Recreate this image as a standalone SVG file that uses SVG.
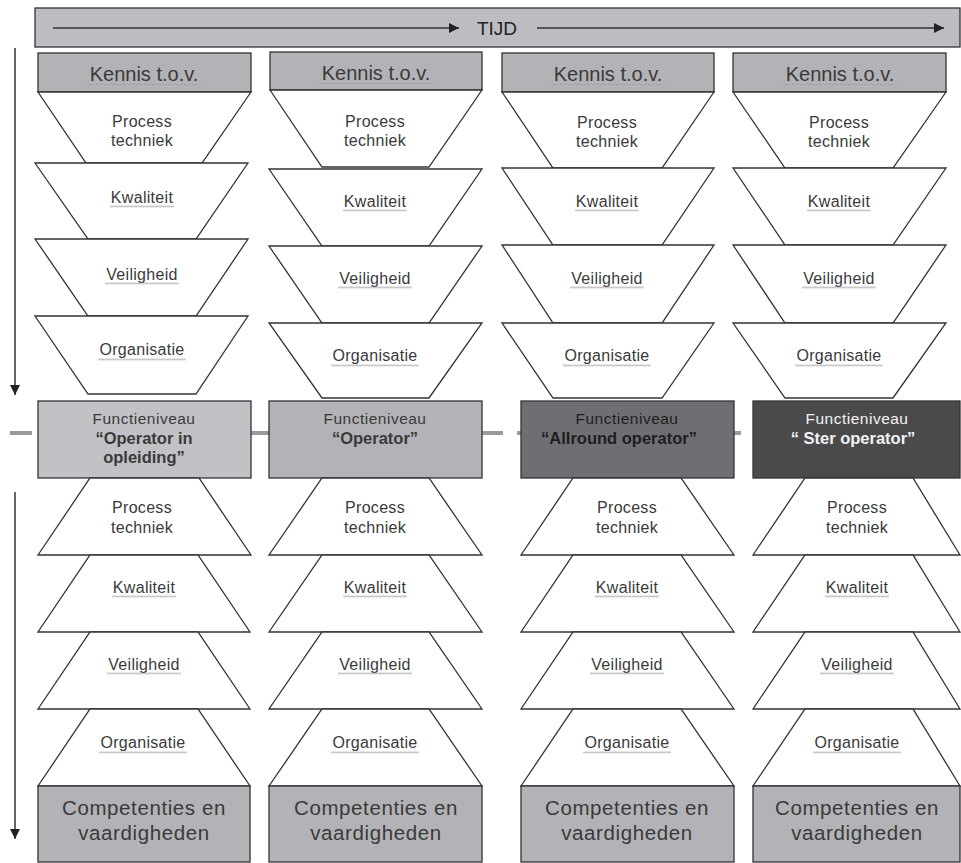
<svg xmlns="http://www.w3.org/2000/svg" width="961" height="863" viewBox="0 0 961 863">
<defs>
<style>
.bg{fill:#ffffff}
.bar{fill:#bdbdc1;stroke:#333;stroke-width:1.3}
.hdr{fill:#b3b3b7;stroke:#333;stroke-width:1.3}
.trap{fill:#ffffff;stroke:#333;stroke-width:1.3}
.f1{fill:#c2c2c6;stroke:#333;stroke-width:1.3}
.f2{fill:#b3b3b7;stroke:#333;stroke-width:1.3}
.f3{fill:#6f6f73;stroke:#333;stroke-width:1.3}
.f4{fill:#4a4a4c;stroke:#333;stroke-width:1.3}
text{font-family:"Liberation Sans",Arial,sans-serif;text-anchor:middle;fill:#3a3a3a}
.big{font-size:20px}
.comp{font-size:20.5px;letter-spacing:0.6px}
.sm{font-size:16px;letter-spacing:0.3px}
.fn{font-size:15.5px;letter-spacing:0.5px}
.fb{font-size:16.5px;font-weight:bold}
.w{fill:#f2f2f2}
.d3{fill:#1e1e1e}
.ln{stroke:#333;stroke-width:1.5;fill:none}
.dash{stroke:#9a9a9a;stroke-width:4;fill:none}
</style>
<pattern id="squig" patternUnits="userSpaceOnUse" width="4" height="3">
<path d="M0,2.5 L1,0.5 L2,2.5 L3,0.5 L4,2.5" fill="none" stroke="#a5a5a5" stroke-width="0.6"/>
</pattern>
<pattern id="dots" patternUnits="userSpaceOnUse" width="2" height="2">
<rect x="0" y="0" width="1" height="1" fill="#9a9a9a"/>
</pattern>
<rect id="sqK" width="64" height="3" fill="url(#squig)"/>
<rect id="sqV" width="74" height="3" fill="url(#squig)"/>
<rect id="sqO" width="88" height="3" fill="url(#squig)"/>
<rect id="sqH" width="116" height="1.5" fill="url(#dots)"/>
<marker id="ah" viewBox="0 0 10 10" refX="10" refY="5" markerWidth="10" markerHeight="10" markerUnits="userSpaceOnUse" orient="auto">
<path d="M0,0 L10,5 L0,10 z" fill="#222"/>
</marker>
</defs>
<rect class="bg" x="0" y="0" width="961" height="863"/>

<g id="tijd">
<rect class="bar" x="35" y="8" width="925" height="39"/>
<text x="497" y="35" style="font-size:19px;fill:#222">TIJD</text>
</g>

<g id="connectors">
<line class="ln" x1="53" y1="28" x2="459" y2="28" marker-end="url(#ah)"/>
<line class="ln" x1="537" y1="28" x2="944" y2="28" marker-end="url(#ah)"/>
<line class="ln" x1="15" y1="48" x2="15" y2="395" marker-end="url(#ah)"/>
<line class="ln" x1="15" y1="492" x2="15" y2="839" marker-end="url(#ah)"/>
<line class="dash" x1="10" y1="433" x2="32" y2="433"/>
<line class="dash" x1="251" y1="433" x2="269" y2="433"/>
<line class="dash" x1="482" y1="433" x2="503" y2="433"/>
<line class="dash" x1="517" y1="433" x2="521" y2="433"/>
<line class="dash" x1="734" y1="433" x2="741" y2="433"/>
</g>

<!-- Column 1 top -->
<g id="c1-kennis"><rect class="hdr" x="38" y="53" width="213" height="39"/><text class="big" x="144" y="81">Kennis t.o.v.</text><use href="#sqH" x="86" y="84"/></g>
<g id="c1-process-top"><polygon class="trap" points="38,92 251,92 202,163 86,163"/><text class="sm" x="142" y="127">Process</text><text class="sm" x="142" y="146">techniek</text></g>
<g id="c1-kwaliteit-top"><polygon class="trap" points="35,163 248,163 196,239 88,239"/><text class="sm" x="142" y="203">Kwaliteit</text><use href="#sqK" x="110" y="205"/></g>
<g id="c1-veiligheid-top"><polygon class="trap" points="35,239 248,239 196,316 88,316"/><text class="sm" x="142" y="280">Veiligheid</text><use href="#sqV" x="105" y="282"/></g>
<g id="c1-organisatie-top"><polygon class="trap" points="35,316 248,316 196,394 88,394"/><text class="sm" x="142" y="355">Organisatie</text><use href="#sqO" x="98" y="358"/></g>

<!-- Column 2 top -->
<g id="c2-kennis"><rect class="hdr" x="270" y="52" width="212" height="38"/><text class="big" x="376" y="80">Kennis t.o.v.</text><use href="#sqH" x="318" y="83"/></g>
<g id="c2-process-top"><polygon class="trap" points="270,90 482,90 429,167 322,167"/><text class="sm" x="375" y="127">Process</text><text class="sm" x="375" y="146">techniek</text></g>
<g id="c2-kwaliteit-top"><polygon class="trap" points="269,169 482,169 429,246 322,246"/><text class="sm" x="375" y="207">Kwaliteit</text><use href="#sqK" x="343" y="209"/></g>
<g id="c2-veiligheid-top"><polygon class="trap" points="269,246 482,246 429,323 322,323"/><text class="sm" x="375" y="284">Veiligheid</text><use href="#sqV" x="338" y="286"/></g>
<g id="c2-organisatie-top"><polygon class="trap" points="269,323 482,323 429,398 322,398"/><text class="sm" x="375" y="361">Organisatie</text><use href="#sqO" x="331" y="364"/></g>

<!-- Column 3 top -->
<g id="c3-kennis"><rect class="hdr" x="502" y="53" width="212" height="39"/><text class="big" x="608" y="81">Kennis t.o.v.</text><use href="#sqH" x="550" y="84"/></g>
<g id="c3-process-top"><polygon class="trap" points="502,92 714,92 662,168 553,168"/><text class="sm" x="607" y="128">Process</text><text class="sm" x="607" y="147">techniek</text></g>
<g id="c3-kwaliteit-top"><polygon class="trap" points="502,168 714,168 662,245 553,245"/><text class="sm" x="607" y="207">Kwaliteit</text><use href="#sqK" x="575" y="209"/></g>
<g id="c3-veiligheid-top"><polygon class="trap" points="502,245 714,245 662,323 553,323"/><text class="sm" x="607" y="284">Veiligheid</text><use href="#sqV" x="570" y="286"/></g>
<g id="c3-organisatie-top"><polygon class="trap" points="502,323 714,323 662,398 553,398"/><text class="sm" x="607" y="361">Organisatie</text><use href="#sqO" x="563" y="364"/></g>

<!-- Column 4 top -->
<g id="c4-kennis"><rect class="hdr" x="733" y="53" width="213" height="39"/><text class="big" x="840" y="81">Kennis t.o.v.</text><use href="#sqH" x="782" y="84"/></g>
<g id="c4-process-top"><polygon class="trap" points="733,92 946,92 893,168 785,168"/><text class="sm" x="839" y="128">Process</text><text class="sm" x="839" y="147">techniek</text></g>
<g id="c4-kwaliteit-top"><polygon class="trap" points="733,168 946,168 893,245 785,245"/><text class="sm" x="839" y="207">Kwaliteit</text><use href="#sqK" x="807" y="209"/></g>
<g id="c4-veiligheid-top"><polygon class="trap" points="733,245 946,245 893,323 785,323"/><text class="sm" x="839" y="284">Veiligheid</text><use href="#sqV" x="802" y="286"/></g>
<g id="c4-organisatie-top"><polygon class="trap" points="733,323 946,323 893,398 785,398"/><text class="sm" x="839" y="361">Organisatie</text><use href="#sqO" x="795" y="364"/></g>

<!-- Functieniveau row -->
<g id="f1"><rect class="f1" x="38" y="401" width="213" height="77"/><text class="fn" x="144" y="424">Functieniveau</text><text class="fb" x="144" y="444">“Operator in</text><text class="fb" x="144" y="463">opleiding”</text></g>
<g id="f2"><rect class="f2" x="269" y="401" width="213" height="77"/><text class="fn" x="375" y="424">Functieniveau</text><text class="fb" x="375" y="444">“Operator”</text></g>
<g id="f3"><rect class="f3" x="521" y="401" width="213" height="77"/><text class="fn d3" x="627" y="424">Functieniveau</text><text class="fb d3" x="619" y="444">“Allround operator”</text></g>
<g id="f4"><rect class="f4" x="753" y="401" width="207" height="77"/><text class="fn w" x="857" y="424">Functieniveau</text><text class="fb w" x="853" y="444">“ Ster operator”</text></g>

<!-- Column 1 bottom -->
<g id="c1-process-bot"><polygon class="trap" points="90,478 199,478 251,555 38,555"/><text class="sm" x="142" y="513">Process</text><text class="sm" x="142" y="533">techniek</text></g>
<g id="c1-kwaliteit-bot"><polygon class="trap" points="90,555 198,555 250,632 38,632"/><text class="sm" x="144" y="593">Kwaliteit</text><use href="#sqK" x="112" y="595"/></g>
<g id="c1-veiligheid-bot"><polygon class="trap" points="90,632 198,632 250,709 38,709"/><text class="sm" x="144" y="670">Veiligheid</text><use href="#sqV" x="107" y="672"/></g>
<g id="c1-organisatie-bot"><polygon class="trap" points="90,709 198,709 250,786 38,786"/><text class="sm" x="143" y="748">Organisatie</text><use href="#sqO" x="99" y="751"/></g>
<g id="c1-comp"><rect class="hdr" x="38" y="786" width="212" height="76"/><text class="comp" x="144" y="815">Competenties en</text><text class="comp" x="144" y="840">vaardigheden</text></g>

<!-- Column 2 bottom -->
<g id="c2-process-bot"><polygon class="trap" points="322,478 429,478 482,555 269,555"/><text class="sm" x="375" y="513">Process</text><text class="sm" x="375" y="533">techniek</text></g>
<g id="c2-kwaliteit-bot"><polygon class="trap" points="322,555 429,555 482,632 269,632"/><text class="sm" x="375" y="593">Kwaliteit</text><use href="#sqK" x="343" y="595"/></g>
<g id="c2-veiligheid-bot"><polygon class="trap" points="322,632 429,632 482,709 269,709"/><text class="sm" x="375" y="670">Veiligheid</text><use href="#sqV" x="338" y="672"/></g>
<g id="c2-organisatie-bot"><polygon class="trap" points="322,709 429,709 482,786 269,786"/><text class="sm" x="375" y="748">Organisatie</text><use href="#sqO" x="331" y="751"/></g>
<g id="c2-comp"><rect class="hdr" x="269" y="786" width="213" height="76"/><text class="comp" x="376" y="815">Competenties en</text><text class="comp" x="376" y="840">vaardigheden</text></g>

<!-- Column 3 bottom -->
<g id="c3-process-bot"><polygon class="trap" points="573,478 681,478 734,555 521,555"/><text class="sm" x="627" y="513">Process</text><text class="sm" x="627" y="533">techniek</text></g>
<g id="c3-kwaliteit-bot"><polygon class="trap" points="573,555 681,555 734,632 521,632"/><text class="sm" x="627" y="593">Kwaliteit</text><use href="#sqK" x="595" y="595"/></g>
<g id="c3-veiligheid-bot"><polygon class="trap" points="573,632 681,632 734,709 521,709"/><text class="sm" x="627" y="670">Veiligheid</text><use href="#sqV" x="590" y="672"/></g>
<g id="c3-organisatie-bot"><polygon class="trap" points="573,709 681,709 734,786 521,786"/><text class="sm" x="627" y="748">Organisatie</text><use href="#sqO" x="583" y="751"/></g>
<g id="c3-comp"><rect class="hdr" x="521" y="786" width="213" height="76"/><text class="comp" x="627" y="815">Competenties en</text><text class="comp" x="627" y="840">vaardigheden</text></g>

<!-- Column 4 bottom -->
<g id="c4-process-bot"><polygon class="trap" points="805,478 913,478 960,555 753,555"/><text class="sm" x="857" y="513">Process</text><text class="sm" x="857" y="533">techniek</text></g>
<g id="c4-kwaliteit-bot"><polygon class="trap" points="805,555 913,555 960,632 753,632"/><text class="sm" x="857" y="593">Kwaliteit</text><use href="#sqK" x="825" y="595"/></g>
<g id="c4-veiligheid-bot"><polygon class="trap" points="805,632 913,632 960,709 753,709"/><text class="sm" x="857" y="670">Veiligheid</text><use href="#sqV" x="820" y="672"/></g>
<g id="c4-organisatie-bot"><polygon class="trap" points="805,709 913,709 960,786 753,786"/><text class="sm" x="857" y="748">Organisatie</text><use href="#sqO" x="813" y="751"/></g>
<g id="c4-comp"><rect class="hdr" x="753" y="786" width="207" height="76"/><text class="comp" x="857" y="815">Competenties en</text><text class="comp" x="857" y="840">vaardigheden</text></g>
</svg>
